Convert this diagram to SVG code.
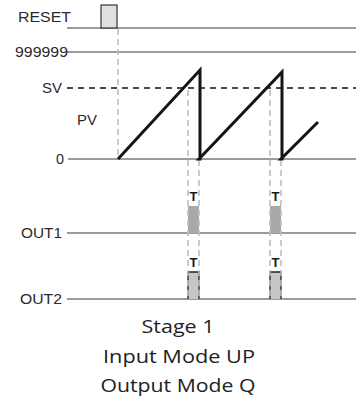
<svg xmlns="http://www.w3.org/2000/svg" width="356" height="399" viewBox="0 0 356 399">
  <style>
    .lbl { font-family: "Liberation Sans", Arial, sans-serif; font-size: 15px; fill: #2a2a2a; }
    .tmark { font-family: "Liberation Sans", Arial, sans-serif; font-size: 13px; font-weight: bold; fill: #1a1a1a; text-anchor: middle; }
    .cap { font-family: "Open Sans", "Noto Sans", sans-serif; font-size: 19px; fill: #222; text-anchor: middle; }
    .axis { stroke: #3a3a3a; stroke-width: 1.2; fill: none; }
    .sv { stroke: #111; stroke-width: 1.6; stroke-dasharray: 6 5; fill: none; }
    .guide { stroke: #bdbdbd; stroke-width: 1.6; stroke-dasharray: 6 4; fill: none; }
    .pv { stroke: #151515; stroke-width: 3; fill: none; stroke-linejoin: miter; }
  </style>

  <!-- signal labels -->
  <g id="labels">
    <text class="lbl" x="18" y="22" textLength="53" lengthAdjust="spacingAndGlyphs">RESET</text>
    <text class="lbl" x="15" y="57" textLength="53" lengthAdjust="spacingAndGlyphs">999999</text>
    <text class="lbl" x="42" y="93" textLength="20" lengthAdjust="spacingAndGlyphs">SV</text>
    <text class="lbl" x="77" y="125" textLength="20" lengthAdjust="spacingAndGlyphs">PV</text>
    <text class="lbl" x="56" y="164" textLength="8" lengthAdjust="spacingAndGlyphs">0</text>
    <text class="lbl" x="21" y="238" textLength="41" lengthAdjust="spacingAndGlyphs">OUT1</text>
    <text class="lbl" x="20" y="304" textLength="42" lengthAdjust="spacingAndGlyphs">OUT2</text>
  </g>

  <!-- baselines -->
  <g id="axes">
    <line class="axis" x1="67" y1="28" x2="356" y2="28"/>
    <line class="axis" x1="66" y1="52" x2="356" y2="52"/>
    <line class="sv" x1="67" y1="88" x2="356" y2="88"/>
    <line class="axis" x1="68" y1="159" x2="356" y2="159"/>
    <line class="axis" x1="67" y1="233" x2="356" y2="233"/>
    <line class="axis" x1="67" y1="299" x2="356" y2="299"/>
  </g>

  <!-- reset pulse -->
  <g id="reset-pulse">
    <rect x="101" y="5" width="16" height="23" fill="#e0e0e0" stroke="#333" stroke-width="1.2"/>
  </g>

  <!-- OUT1 pulses -->
  <g id="out1-pulses">
    <rect x="188" y="206" width="11" height="27" fill="#a9a9a9"/>
    <rect x="270" y="206" width="11" height="27" fill="#a9a9a9"/>
    <text class="tmark" x="193.5" y="201">T</text>
    <text class="tmark" x="275.5" y="201">T</text>
  </g>

  <!-- OUT2 pulses -->
  <g id="out2-pulses">
    <path d="M188 299 V272 H199 V299" fill="#c6c6c6" stroke="#222" stroke-width="1.3"/>
    <path d="M270 299 V272 H281 V299" fill="#c6c6c6" stroke="#222" stroke-width="1.3"/>
    <text class="tmark" x="193.5" y="267">T</text>
    <text class="tmark" x="275.5" y="267">T</text>
  </g>

  <!-- timing guides -->
  <g id="connectors">
    <line class="guide" x1="118" y1="29" x2="118" y2="159"/>
    <line class="guide" x1="188" y1="90" x2="188" y2="299"/>
    <line class="guide" x1="199" y1="160" x2="199" y2="299"/>
    <line class="guide" x1="270" y1="90" x2="270" y2="299"/>
    <line class="guide" x1="281" y1="160" x2="281" y2="299"/>
  </g>

  <!-- PV sawtooth -->
  <g id="pv-trace">
    <path class="pv" d="M118 159 L200 70 L200 159 L199 159 L282 72 L282 159 L281 159 L318 122"/>
  </g>

  <!-- caption -->
  <g id="caption">
    <text class="cap" x="178" y="333" textLength="73" lengthAdjust="spacingAndGlyphs">Stage 1</text>
    <text class="cap" x="179" y="363" textLength="152" lengthAdjust="spacingAndGlyphs">Input Mode UP</text>
    <text class="cap" x="178" y="392" textLength="155" lengthAdjust="spacingAndGlyphs">Output Mode Q</text>
  </g>
</svg>
